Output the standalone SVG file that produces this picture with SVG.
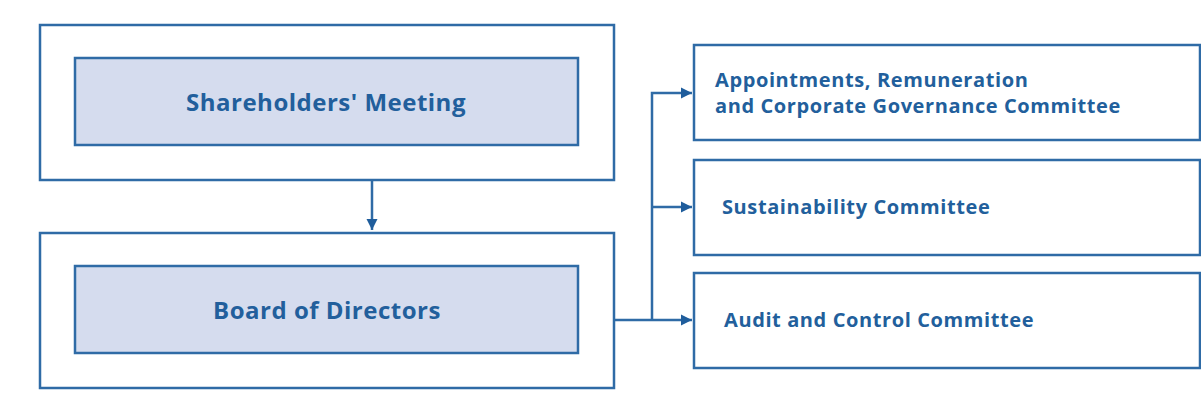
<svg xmlns="http://www.w3.org/2000/svg" width="1201" height="407" viewBox="0 0 1201 407">
<defs>
<style>
.outer{fill:#fff;stroke:#2f6ba6;stroke-width:2.5}
.inner{fill:#d5dcee;stroke:#2f6ba6;stroke-width:2.5}
.lbl{font-family:"Open Sans","Liberation Sans",sans-serif;font-weight:bold;fill:#225f9c}
.big{font-size:24px;letter-spacing:0.5px}
.sm{font-size:20px;letter-spacing:0.6px}
.conn{fill:none;stroke:#2f6ba6;stroke-width:2.5}
</style>
<marker id="ah" viewBox="0 0 10 10" refX="10" refY="5" markerWidth="4.5" markerHeight="4.5" orient="auto" markerUnits="strokeWidth">
<path d="M0,0 L10,5 L0,10 z" fill="#1f5d9c"/>
</marker>
</defs>
<rect width="1201" height="407" fill="#fff"/>
<g id="connectors">
<path class="conn" d="M372,180 V230" marker-end="url(#ah)"/>
<path class="conn" d="M614,320 H692" marker-end="url(#ah)"/>
<path class="conn" d="M652,320 V93 H692" marker-end="url(#ah)"/>
<path class="conn" d="M652,207 H692" marker-end="url(#ah)"/>
</g>
<g id="shareholders">
<rect class="outer" x="40" y="25" width="574" height="155"/>
<rect class="inner" x="75" y="58" width="503" height="87"/>
<text class="lbl big" x="326" y="111" text-anchor="middle">Shareholders' Meeting</text>
</g>
<g id="board">
<rect class="outer" x="40" y="233" width="574" height="155"/>
<rect class="inner" x="75" y="266" width="503" height="87"/>
<text class="lbl big" x="327" y="319" text-anchor="middle">Board of Directors</text>
</g>
<g id="appointments">
<rect class="outer" x="694" y="45" width="506" height="95"/>
<text class="lbl sm" x="715" y="87">Appointments, Remuneration</text>
<text class="lbl sm" x="715" y="113">and Corporate Governance Committee</text>
</g>
<g id="sustainability">
<rect class="outer" x="694" y="160" width="506" height="95"/>
<text class="lbl sm" x="722" y="214">Sustainability Committee</text>
</g>
<g id="audit">
<rect class="outer" x="694" y="273" width="506" height="95"/>
<text class="lbl sm" x="724" y="327">Audit and Control Committee</text>
</g>
</svg>
